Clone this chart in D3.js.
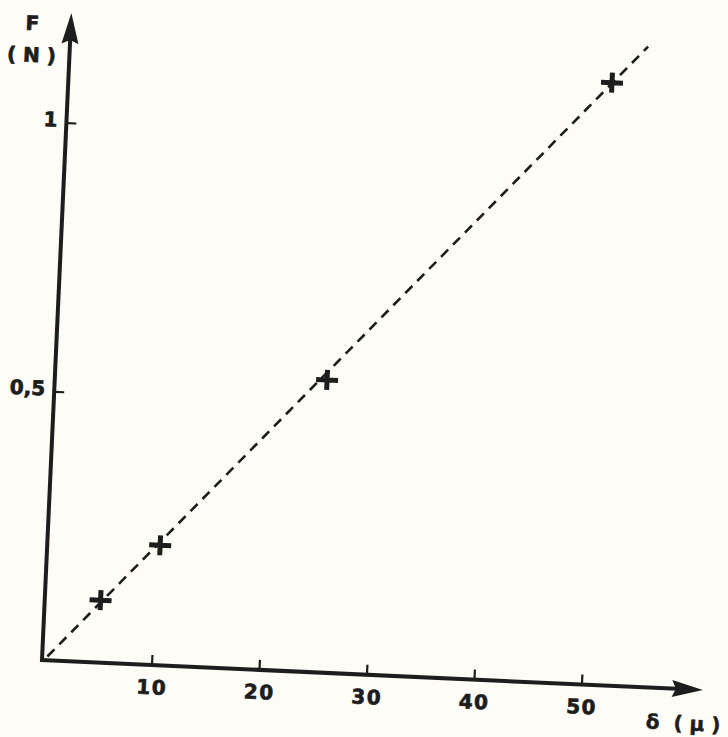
<!DOCTYPE html>
<html>
<head>
<meta charset="utf-8">
<script src="https://cdn.jsdelivr.net/npm/d3@7/dist/d3.min.js"></script>
<style>
  html, body { margin: 0; padding: 0; background: #fdfcf7; }
  svg { display: block; }
  text { font-family: "DejaVu Sans", "Liberation Sans", sans-serif; font-weight: bold; fill: #1d1d1d; }
</style>
</head>
<body>
<script>
// Measured deflection (microns) and force (newtons)
const deltaMicrons = [5.0, 10.3, 25.1, 50.3];
const forceN = [0.116, 0.223, 0.544, 1.12];

// Linear fit drawn as a dashed segment
const fitDelta = [0.3, 53.5];
const fitForce = [0.007, 1.19];

// Axis ticks and labels
const xTicks = [10, 20, 30, 40, 50];
const xTickLabels = ["10", "20", "30", "40", "50"];
const yTicks = [0.5, 1];
const yTickLabels = ["0,5", "1"];
const xTitle = "δ  ( μ )";
const yTitleTop = "F";
const yTitleBottom = "( N )";

const W = 728, H = 737;
const ink = "#1d1d1d";

const svg = d3.select("body").append("svg")
  .attr("width", W).attr("height", H);

svg.append("rect").attr("width", W).attr("height", H).attr("fill", "#fdfcf7");

// The whole plate sits slightly turned on the page
const g = svg.append("g").attr("transform", "translate(42,660) rotate(2.6)");

const x = d3.scaleLinear().domain([0, 60]).range([2, 2 + 60 * 10.76]);
const y = d3.scaleLinear().domain([0, 1.2]).range([0, -1.2 * 538]);

// Axes (ticks point inward)
const xAxis = d3.axisBottom(x)
  .tickValues(xTicks)
  .tickFormat((d, i) => xTickLabels[i])
  .tickSizeInner(-10).tickSizeOuter(0).tickPadding(15);
const yAxis = d3.axisLeft(y)
  .tickValues(yTicks)
  .tickFormat((d, i) => yTickLabels[i])
  .tickSizeInner(-10).tickSizeOuter(0).tickPadding(9);

const gx = g.append("g").call(xAxis);
const gy = g.append("g").call(yAxis);
[gx, gy].forEach(a => {
  a.select(".domain").remove();
  a.selectAll(".tick line").attr("stroke", ink).attr("stroke-width", 2.2);
  a.selectAll(".tick text").attr("font-size", 20).attr("fill", ink)
    .attr("stroke", ink).attr("stroke-width", 0.7)
    .style("font-family", "'DejaVu Sans', sans-serif").style("font-weight", "bold");
});
gx.selectAll(".tick text").attr("letter-spacing", 1.5).attr("dx", "0.75");
gy.selectAll(".tick text").attr("dy", "0.2em");

// Axis lines with arrow heads
const xEnd = x(61.3) - x(0) + 2;
const yEnd = y(1.204);
g.append("line").attr("x1", -1).attr("y1", 0).attr("x2", xEnd - 26).attr("y2", 0)
  .attr("stroke", ink).attr("stroke-width", 4);
g.append("line").attr("x1", 0).attr("y1", 2).attr("x2", 0).attr("y2", yEnd + 26)
  .attr("stroke", ink).attr("stroke-width", 4);
g.append("path")
  .attr("d", `M${xEnd},0 L${xEnd - 31},-8.5 L${xEnd - 27},0 L${xEnd - 31},8.5 Z`)
  .attr("fill", ink);
g.append("path")
  .attr("d", `M0,${yEnd} L-8.5,${yEnd + 31} L0,${yEnd + 27} L8.5,${yEnd + 31} Z`)
  .attr("fill", ink);

// Fitted line
g.append("line")
  .attr("x1", x(fitDelta[0])).attr("y1", y(fitForce[0]))
  .attr("x2", x(fitDelta[1])).attr("y2", y(fitForce[1]))
  .attr("stroke", ink).attr("stroke-width", 2.6)
  .attr("stroke-dasharray", "10,7");

// Measurement crosses
g.selectAll("path.pt")
  .data(deltaMicrons.map((d, i) => [d, forceN[i]]))
  .join("path")
  .attr("class", "pt")
  .attr("transform", d => `translate(${x(d[0])},${y(d[1])})`)
  .attr("d", "M-11,0H11M0,-10V10")
  .attr("stroke", ink).attr("stroke-width", 5);

// Axis titles
g.append("text").attr("x", -38.6).attr("y", -628.9)
  .attr("text-anchor", "middle").attr("font-size", 20)
  .attr("stroke", ink).attr("stroke-width", 0.7).text(yTitleTop);
g.append("text").attr("x", -38).attr("y", -597)
  .attr("text-anchor", "middle").attr("font-size", 20)
  .attr("stroke", ink).attr("stroke-width", 0.7)
  .style("white-space", "pre").text(yTitleBottom);
g.append("text").attr("x", 606).attr("y", 41)
  .attr("text-anchor", "start").attr("font-size", 20)
  .attr("stroke", ink).attr("stroke-width", 0.5)
  .style("white-space", "pre").text(xTitle);
</script>
</body>
</html>
